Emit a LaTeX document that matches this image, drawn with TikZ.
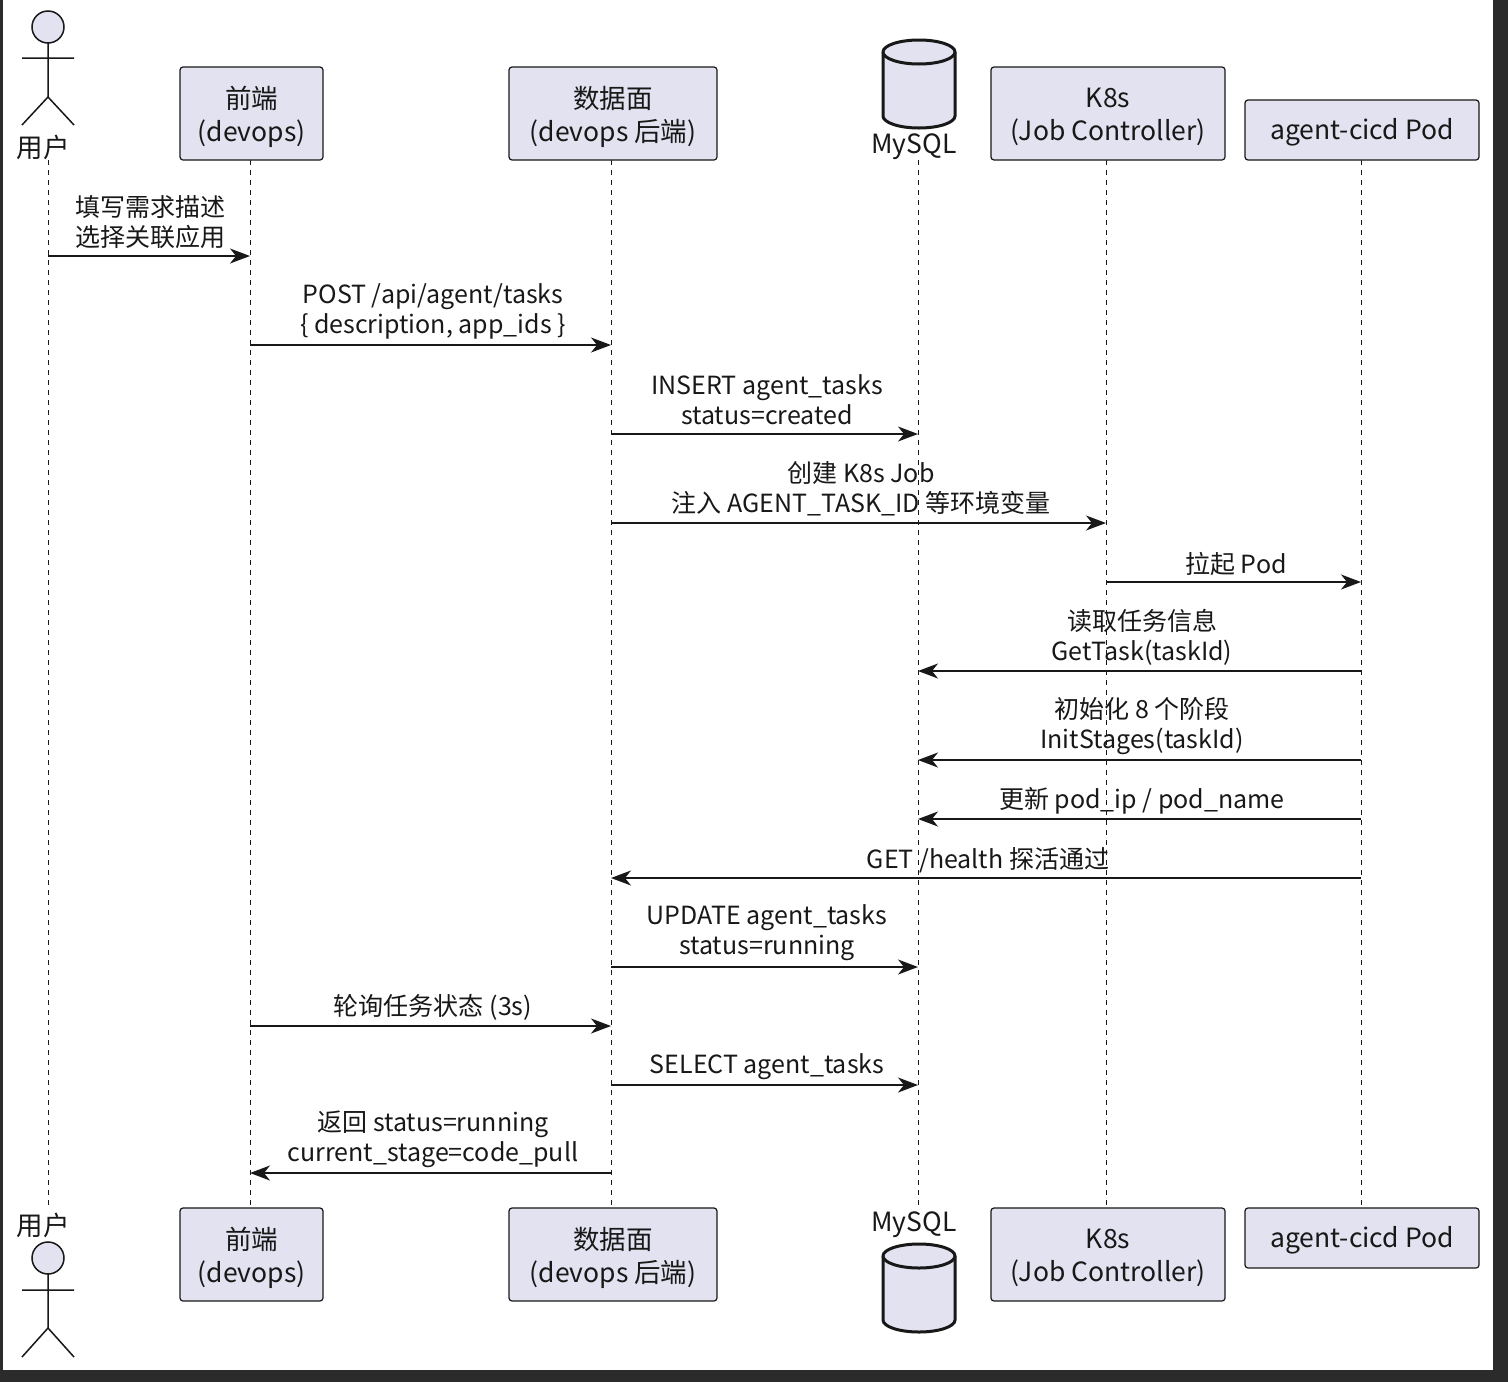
\documentclass[tikz,border=0pt]{standalone}
\usepackage{fontspec}
\setmainfont{Noto Sans CJK SC}
\usetikzlibrary{arrows.meta}
\definecolor{boxfill}{HTML}{E2E2F0}
\definecolor{ink}{HTML}{181818}
\definecolor{frame}{HTML}{2B2B2B}
\begin{document}
\begin{tikzpicture}[x=1pt,y=-1pt,
  part/.style={draw=ink,line width=1.2pt,fill=boxfill,rounded corners=3pt,align=center,font=\fontsize{26.5}{33}\selectfont},
  ptext/.style={align=center,font=\fontsize{26.5}{33}\selectfont,text=ink,inner sep=0pt},
  life/.style={ink,dash pattern=on 5pt off 5pt,line width=1pt},
  msg/.style={ink,line width=1.5pt,-{Stealth[length=20pt,width=15pt,inset=6pt]}},
  lbl/.style={align=center,font=\fontsize{25}{30}\selectfont,text=ink,inner sep=0pt},
  ptitle/.style={font=\fontsize{26.5}{30}\selectfont,text=ink,inner sep=0pt},
  dbs/.style={draw=ink,line width=3pt,fill=boxfill}]
\useasboundingbox (0,0) rectangle (1508,1382);
\fill[frame] (0,0) rectangle (1508,1382);
\fill[white] (3,0) rectangle (1493,1370);
% lifelines
\foreach \x in {48,250,611,918,1106,1361}{\draw[life] (\x,160) -- (\x,1208);}
% top participants
\node[part,minimum width=143pt,minimum height=93pt] (fe) at (251.5,113.5) {};
\node[ptext] (fet) at (251.5,117) {前端\\(devops)};
\node[part,minimum width=208pt,minimum height=93pt] (dp) at (613,113.5) {};
\node[ptext] (dpt) at (613,117) {数据面\\(devops 后端)};
\node[part,minimum width=234pt,minimum height=93pt] (k8) at (1108,113.5) {};
\node[ptext] (k8t) at (1108,117) {K8s\\(Job Controller)};
\node[part,minimum width=234pt,minimum height=60pt] (pod) at (1362,130) {};
\node[ptext] (podt) at (1362,132) {agent-cicd Pod};
\node[part,minimum width=143pt,minimum height=93pt] (fe2) at (251.5,1254.5) {};
\node[ptext] (fe2t) at (251.5,1258) {前端\\(devops)};
\node[part,minimum width=208pt,minimum height=93pt] (dp2) at (613,1254.5) {};
\node[ptext] (dp2t) at (613,1258) {数据面\\(devops 后端)};
\node[part,minimum width=234pt,minimum height=93pt] (k82) at (1108,1254.5) {};
\node[ptext] (k82t) at (1108,1258) {K8s\\(Job Controller)};
\node[part,minimum width=234pt,minimum height=60pt] (pod2) at (1362,1238) {};
\node[ptext] (pod2t) at (1362,1240) {agent-cicd Pod};
% MySQL cylinders
\draw[dbs] (883,52) -- (883,116) arc[start angle=180,end angle=360,x radius=36,y radius=-12] -- (955,52) arc[start angle=0,end angle=180,x radius=36,y radius=-12] -- cycle;
\draw[dbs] (883,52) arc[start angle=180,end angle=360,x radius=36,y radius=-12];
\node[ptitle] (dbl) at (914,147) {MySQL};
\draw[dbs] (883,1256) -- (883,1320) arc[start angle=180,end angle=360,x radius=36,y radius=-12] -- (955,1256) arc[start angle=0,end angle=180,x radius=36,y radius=-12] -- cycle;
\draw[dbs] (883,1256) arc[start angle=180,end angle=360,x radius=36,y radius=-12];
\node[ptitle] (dbl2) at (914,1225) {MySQL};
% actors
\draw[ink,line width=1.5pt,fill=boxfill] (48,27) circle (16);
\draw[ink,line width=1.5pt] (48,43) -- (48,97) (22,58) -- (74,58) (48,97) -- (22,125) (48,97) -- (74,125);
\node[ptitle] (ul) at (43,147) {用户};
\draw[ink,line width=1.5pt,fill=boxfill] (48,1258) circle (16);
\draw[ink,line width=1.5pt] (48,1274) -- (48,1328) (22,1290) -- (74,1290) (48,1328) -- (22,1357) (48,1328) -- (74,1357);
\node[ptitle] (ul2) at (43,1225) {用户};
% message coordinates
\foreach \n/\y in {1/256,2/345,3/434,4/523,5/582,6/671,7/760,8/819,9/878,10/967,11/1026,12/1085,13/1173}{
  \coordinate (u\n) at (48,\y); \coordinate (f\n) at (250,\y); \coordinate (d\n) at (611,\y);
  \coordinate (m\n) at (918,\y); \coordinate (k\n) at (1106,\y); \coordinate (p\n) at (1361,\y);}
\draw[msg] (u1) -- (f1);
\node[lbl] at (150,222) {填写需求描述\\选择关联应用};
\draw[msg] (f2) -- (d2);
\node[lbl] at (433,311) {POST /api/agent/tasks\\\{ description, app\_ids \}};
\draw[msg] (d3) -- (m3);
\node[lbl] at (767,400) {INSERT agent\_tasks\\status=created};
\draw[msg] (d4) -- (k4);
\node[lbl] at (861,489) {创建 K8s Job\\注入 AGENT\_TASK\_ID 等环境变量};
\draw[msg] (k5) -- (p5);
\node[lbl] at (1236,564) {拉起 Pod};
\draw[msg] (p6) -- (m6);
\node[lbl] at (1142,637) {读取任务信息\\GetTask(taskId)};
\draw[msg] (p7) -- (m7);
\node[lbl] at (1142,726) {初始化 8 个阶段\\InitStages(taskId)};
\draw[msg] (p8) -- (m8);
\node[lbl] at (1142,801) {更新 pod\_ip / pod\_name};
\draw[msg] (p9) -- (d9);
\node[lbl] at (988,860) {GET /health 探活通过};
\draw[msg] (d10) -- (m10);
\node[lbl] at (767,933) {UPDATE agent\_tasks\\status=running};
\draw[msg] (f11) -- (d11);
\node[lbl] at (433,1007) {轮询任务状态 (3s)};
\draw[msg] (d12) -- (m12);
\node[lbl] at (767,1067) {SELECT agent\_tasks};
\draw[msg] (d13) -- (f13);
\node[lbl] at (433,1139) {返回 status=running\\current\_stage=code\_pull};
\end{tikzpicture}
\end{document}
